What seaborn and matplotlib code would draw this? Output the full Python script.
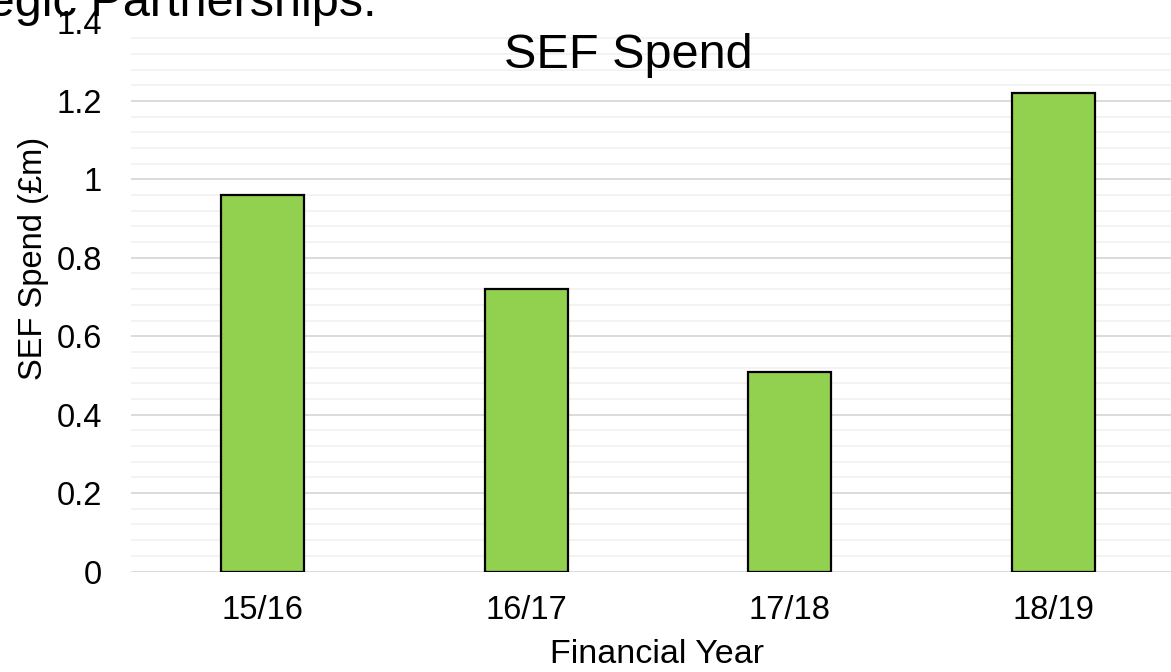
import matplotlib
matplotlib.use("Agg")
import matplotlib.pyplot as plt
from matplotlib.ticker import MultipleLocator, FuncFormatter
import seaborn as sns
import pandas as pd

# --------------------------
# Data
# --------------------------
years = ["15/16", "16/17", "17/18", "18/19"]
spend = [0.96, 0.72, 0.51, 1.22]

df = pd.DataFrame({"year": years, "spend": spend})

# --------------------------
# Style
# --------------------------
sns.set_style("white")
plt.rcParams["font.family"] = ["Liberation Sans", "DejaVu Sans"]
plt.rcParams["text.color"] = "black"
plt.rcParams["xtick.color"] = "black"
plt.rcParams["ytick.color"] = "black"

W, H = 1171, 672
fig = plt.figure(figsize=(W / 100, H / 100), dpi=100)
# axes reaches a bit past the right edge, like the cropped slide
ax = fig.add_axes([131 / W, 1 - 571.5 / H, (1185 - 131) / W, 549 / H])

sns.barplot(data=df, x="year", y="spend", color="#92d050", edgecolor="black",
            linewidth=1.6, width=0.315, saturation=1, ax=ax)

ax.set_xlim(-0.5, 3.5)
ax.set_ylim(0, 1.4)
ax.yaxis.set_major_locator(MultipleLocator(0.2))
ax.yaxis.set_minor_locator(MultipleLocator(0.04))
ax.yaxis.set_major_formatter(FuncFormatter(lambda v, p: f"{v:g}"))
ax.grid(axis="y", which="major", color="#d9d9d9", linewidth=1.3)
ax.grid(axis="y", which="minor", color="#f2f2f2", linewidth=1.3)
ax.set_axisbelow(True)
for s in ax.spines.values():
    s.set_visible(False)
ax.tick_params(axis="both", which="both", length=0, labelsize=23.5)
ax.tick_params(axis="y", pad=21)
ax.tick_params(axis="x", pad=17)
ax.set_xlabel("")
ax.set_ylabel("")

# --------------------------
# Texts
# --------------------------
fig.text(628 / W, 1 - 68 / H, "SEF Spend", ha="center", va="baseline", fontsize=35)
fig.text(657 / W, 1 - 663 / H, "Financial Year", ha="center", va="baseline", fontsize=24.5)
fig.text(34 / W, 1 - 258 / H, "SEF Spend (£m)", ha="center", va="center",
         rotation=90, fontsize=23.5)
# heading of the slide, cut off by the crop
fig.text(377 / W, 1 - 16 / H, "Strategic Partnerships.", ha="right", va="baseline",
         fontsize=35)

fig.savefig("out.png", dpi=100)
